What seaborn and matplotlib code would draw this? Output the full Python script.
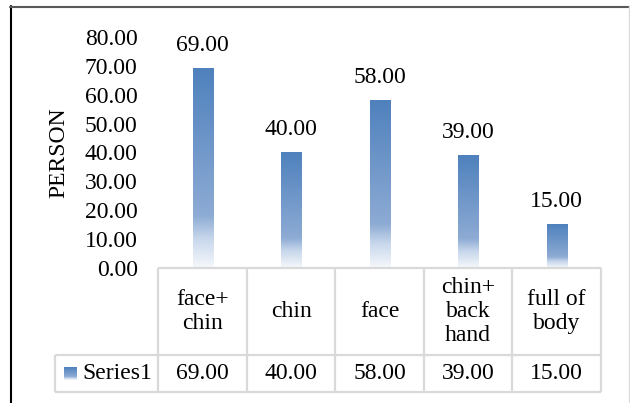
import numpy as np
import pandas as pd
import seaborn as sns
import matplotlib
matplotlib.use("Agg")
from matplotlib import pyplot as plt
from matplotlib.colors import LinearSegmentedColormap
from matplotlib.lines import Line2D

# data
categories = ["face+\nchin", "chin", "face", "chin+\nback\nhand", "full of\nbody"]
values = [69, 40, 58, 39, 15]
series_name = "Series1"
y_ticks = [0, 10, 20, 30, 40, 50, 60, 70, 80]

FONT = 17
W, H = 630, 403
grid_col = "#D9D9D9"
bar_cmap = LinearSegmentedColormap.from_list(
    "bar", [(0, "#4F81BD"), (0.74, "#8DABD4"), (0.85, "#C6D6EB"), (1, "#F6F8FC")])
grad = np.linspace(0, 1, 256).reshape(-1, 1)


def px(l, t, r, b):
    # pixel box -> figure fraction rect
    return [l / W, 1 - b / H, (r - l) / W, (b - t) / H]


sns.set_style("white")
plt.rcParams["font.family"] = ["Liberation Serif", "DejaVu Serif"]
for k in ["text.color", "axes.labelcolor", "xtick.color", "ytick.color"]:
    plt.rcParams[k] = "black"

fig = plt.figure(figsize=(6.3, 4.03), dpi=100)

# bars
ax = fig.add_axes(px(158.5, 37, 601, 268))
df = pd.DataFrame({"cat": categories, "val": values})
sns.barplot(data=df, x="cat", y="val", width=0.23, color="#4F81BD", linewidth=0, ax=ax)
for bar in ax.patches:
    x0, y0 = bar.get_xy()
    ax.imshow(grad, cmap=bar_cmap, extent=[x0, x0 + bar.get_width(), y0, y0 + bar.get_height()],
              aspect="auto", origin="upper", zorder=2)
    bar.set_facecolor("none")
ax.bar_label(ax.containers[0], fmt="%.2f", padding=9, fontsize=FONT)

ax.set_xlim(-0.5, len(categories) - 0.5)
ax.set_ylim(0, 80)
ax.set_yticks(y_ticks)
ax.set_yticklabels([f"{v:.2f}" for v in y_ticks])
ax.tick_params(axis="y", length=0, pad=15, labelsize=FONT)
ax.set_xticks([])
ax.set_xlabel("")
ax.set_ylabel("PERSON", fontsize=FONT, labelpad=11)
for s in ax.spines.values():
    s.set_visible(False)

# data table underneath
tab = fig.add_axes(px(55, 268, 601, 392))
left = -0.5 - 103.5 / 88.6
n = len(categories)
tab.hlines([0, 37], left, n - 0.5, color=grid_col, lw=1.6, clip_on=False)
tab.hlines(124, -0.5, n - 0.5, color=grid_col, lw=1.6, clip_on=False)
tab.vlines(left, 0, 37, color=grid_col, lw=1.6, clip_on=False)
tab.vlines(np.arange(-0.5, n), 0, 124, color=grid_col, lw=1.6, clip_on=False)
for i, (c, v) in enumerate(zip(categories, values)):
    tab.text(i, 80.5, c, ha="center", va="center", fontsize=FONT, linespacing=1.2)
    tab.text(i, 18.5, f"{v:.2f}", ha="center", va="center", fontsize=FONT)
tab.imshow(grad, cmap=bar_cmap, extent=[left + 9 / 88.6, left + 22 / 88.6, 12, 25],
           aspect="auto", origin="upper")
tab.text(left + 27 / 88.6, 18.5, series_name, ha="left", va="center", fontsize=FONT)
tab.set_xlim(left, n - 0.5)
tab.set_ylim(0, 124)
tab.axis("off")

# chart frame
fig.add_artist(Line2D([10.5 / W] * 2, [0, 1 - 6 / H], color="black", lw=1.5))
fig.add_artist(Line2D([10 / W, 1], [1 - 6.5 / H] * 2, color="#595959", lw=1.5))
fig.add_artist(Line2D([629 / W] * 2, [0, 1 - 6 / H], color=grid_col, lw=1))

fig.savefig("out.png", dpi=100)
